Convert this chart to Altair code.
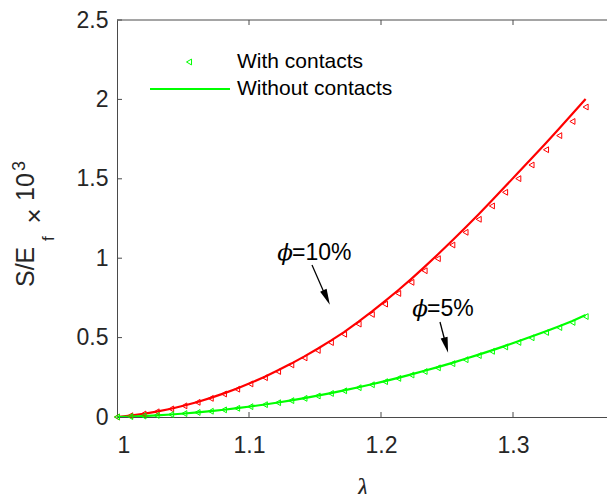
import altair as alt
import pandas as pd

# Stretch ratio lambda, shared by both volume fractions
lam = [1.000, 1.010, 1.020, 1.030, 1.041, 1.051, 1.061, 1.071, 1.081, 1.091,
       1.101, 1.112, 1.122, 1.132, 1.142, 1.152, 1.162, 1.172, 1.183, 1.193,
       1.203, 1.213, 1.223, 1.233, 1.243, 1.254, 1.264, 1.274, 1.284, 1.294,
       1.304, 1.314, 1.325, 1.335, 1.345, 1.355]

# phi = 10 %
s10_without = [0.0, 0.0084, 0.0196, 0.0336, 0.0522, 0.0721, 0.0948, 0.1203, 0.1486, 0.1796,
               0.2135, 0.254, 0.2938, 0.3363, 0.3817, 0.4299, 0.4808, 0.5346, 0.600, 0.663,
               0.729, 0.798, 0.870, 0.945, 1.023, 1.111, 1.193, 1.277, 1.363, 1.451,
               1.539, 1.628, 1.726, 1.817, 1.909, 2.002]
s10_with = [0.0, 0.0082, 0.0191, 0.0328, 0.0509, 0.0703, 0.0924, 0.1173, 0.1449, 0.1751,
            0.2082, 0.2477, 0.2865, 0.3279, 0.3722, 0.4192, 0.4688, 0.5212, 0.585, 0.646,
            0.711, 0.778, 0.848, 0.921, 0.997, 1.083, 1.163, 1.245, 1.329, 1.415,
            1.501, 1.587, 1.683, 1.772, 1.861, 1.952]

# phi = 5 %
s5_without = [0.0, 0.0025, 0.0058, 0.0101, 0.0158, 0.0219, 0.0289, 0.0369, 0.0457, 0.0555,
              0.0661, 0.0789, 0.0914, 0.1048, 0.1191, 0.1344, 0.1505, 0.1675, 0.1873, 0.2062,
              0.226, 0.2468, 0.2684, 0.2909, 0.3143, 0.3411, 0.3664, 0.3926, 0.4198, 0.4478,
              0.4767, 0.5065, 0.5403, 0.572, 0.6046, 0.6421]
s5_with = [0.0, 0.0025, 0.0057, 0.0099, 0.0156, 0.0216, 0.0285, 0.0363, 0.045, 0.0547,
           0.0651, 0.0777, 0.09, 0.1032, 0.1173, 0.1324, 0.1482, 0.165, 0.1845, 0.2031,
           0.2226, 0.2431, 0.2644, 0.2865, 0.3096, 0.336, 0.3609, 0.3867, 0.4135, 0.4411,
           0.4695, 0.4989, 0.5322, 0.5634, 0.5955, 0.6325]

x_ticks = [1.1, 1.2, 1.3]
y_ticks = [0.5, 1.0, 1.5, 2.0, 2.5]

RED = "#ff0000"
GREEN = "#00ff00"
INK = "#262626"
AXIS = "#4a4a4a"
SANS = "Liberation Sans"

W, H = 490, 397

x_scale = alt.Scale(domain=[1.0, 1.3712], nice=False, zero=False)
y_scale = alt.Scale(domain=[0.0, 2.5], nice=False, zero=False)

x_axis = alt.Axis(values=[1.0, 1.1, 1.2, 1.3], format="~g", ticks=False, tickSize=0,
                  grid=False, domainColor=AXIS, domainWidth=1,
                  labelFont=SANS, labelFontSize=23, labelColor=INK, labelPadding=17,
                  title="λ", titleFont="Liberation Serif", titleFontStyle="italic",
                  titleFontWeight="normal", titleFontSize=28, titleColor=INK,
                  titleBaseline="top", titleY=57, titleX=W / 2)
y_axis = alt.Axis(values=[0.0, 0.5, 1.0, 1.5, 2.0, 2.5], format="~g", ticks=False, tickSize=0,
                  grid=False, domainColor=AXIS, domainWidth=1,
                  labelFont=SANS, labelFontSize=23, labelColor=INK, labelPadding=9,
                  title=None)

X = alt.X("lam:Q", scale=x_scale, axis=x_axis)
Y = alt.Y("s:Q", scale=y_scale, axis=y_axis)


def series(values):
    return pd.DataFrame({"lam": lam, "s": values})


def curve(values, color):
    return alt.Chart(series(values)).mark_line(color=color, strokeWidth=2.2, clip=True).encode(x=X, y=Y)


def markers(values, color):
    return alt.Chart(series(values)).mark_point(
        shape="triangle-left", filled=False, color=color, size=34, strokeWidth=1, opacity=1
    ).encode(x=X, y=Y)


one = pd.DataFrame({"k": [0]})

# inward ticks and the top frame line
xt = pd.DataFrame({"lam": x_ticks})
yt = pd.DataFrame({"s": y_ticks})
tick_bottom = alt.Chart(xt).mark_rule(color=AXIS, strokeWidth=1).encode(x=X, y=alt.value(H), y2=alt.value(H - 5))
tick_top = alt.Chart(xt).mark_rule(color=AXIS, strokeWidth=1).encode(x=X, y=alt.value(0), y2=alt.value(5))
tick_left = alt.Chart(yt).mark_rule(color=AXIS, strokeWidth=1).encode(y=Y, x=alt.value(0), x2=alt.value(5))
frame_top = alt.Chart(one).mark_rule(color=AXIS, strokeWidth=1).encode(
    x=alt.value(0), x2=alt.value(W), y=alt.value(0))

# legend
leg_marker = alt.Chart(one).mark_point(shape="triangle-left", filled=False, color=GREEN,
                                       size=34, strokeWidth=1, opacity=1).encode(
    x=alt.value(72), y=alt.value(42))
leg_line = alt.Chart(one).mark_rule(color=GREEN, strokeWidth=2.2).encode(
    x=alt.value(33), x2=alt.value(113), y=alt.value(69))
leg_t1 = alt.Chart(one).mark_text(text="With contacts", font=SANS, fontSize=21, color="#000000",
                                  align="left", baseline="middle").encode(x=alt.value(120), y=alt.value(42))
leg_t2 = alt.Chart(one).mark_text(text="Without contacts", font=SANS, fontSize=21, color="#000000",
                                  align="left", baseline="middle").encode(x=alt.value(120), y=alt.value(69))


def phi_label(x, y, rest):
    sym = alt.Chart(one).mark_text(text="ϕ", font="DejaVu Serif", fontStyle="italic", fontSize=23,
                                   color="#000000", align="right", baseline="alphabetic").encode(
        x=alt.value(x + 1), y=alt.value(y))
    txt = alt.Chart(one).mark_text(text=rest, font=SANS, fontSize=23, color="#000000",
                                   align="left", baseline="alphabetic").encode(
        x=alt.value(x), y=alt.value(y))
    return [sym, txt]


ARROW = "M0,-1L0.45,1L-0.45,1Z"


def arrow(x0, y0, x1, y1, xh, yh, ang):
    shaft = alt.Chart(one).mark_rule(color="#000000", strokeWidth=1.3).encode(
        x=alt.value(x0), y=alt.value(y0), x2=alt.value(x1), y2=alt.value(y1))
    head = alt.Chart(one).mark_point(shape=ARROW, filled=True, color="#000000", size=250,
                                     angle=ang, opacity=1).encode(x=alt.value(xh), y=alt.value(yh))
    return [shaft, head]


# y-axis title: S/E_f x 10^3 built from rotated pieces
def ytext(t, x, y, size, align="left", baseline="alphabetic"):
    return alt.Chart(one).mark_text(text=t, font=SANS, fontSize=size, color=INK, angle=270,
                                    align=align, baseline=baseline).encode(
        x=alt.value(x), y=alt.value(y))


ytitle = [
    ytext("S/E", 34 - 117, 287 - 20, 25),
    ytext("f", 54 - 117, 241 - 20, 17),
    ytext("×", 35 - 117, 216 - 20, 26, align="center", baseline="middle"),
    ytext("10", 34 - 117, 201 - 20, 25),
    ytext("3", 25 - 117, 171 - 20, 18),
]

layers = [
    tick_bottom, tick_top, tick_left, frame_top,
    curve(s10_without, RED), curve(s5_without, GREEN),
    markers(s10_with, RED), markers(s5_with, GREEN),
    leg_marker, leg_line, leg_t1, leg_t2,
    *phi_label(175, 240, "=10%"), *phi_label(310, 296, "=5%"),
    *arrow(195, 245, 209, 277, 209.6, 277.5, 155.8),
    *arrow(323, 302, 329, 325, 329.1, 325.2, 165.5),
    *ytitle,
]

chart = alt.layer(*layers).properties(
    width=W, height=H,
    autosize=alt.AutoSizeParams(type="none"),
    padding={"left": 117, "top": 20, "right": 0, "bottom": 77},
    background="#ffffff",
).configure_view(stroke=None)

chart.save("out.html", embed_options={"renderer": "svg", "actions": False})
